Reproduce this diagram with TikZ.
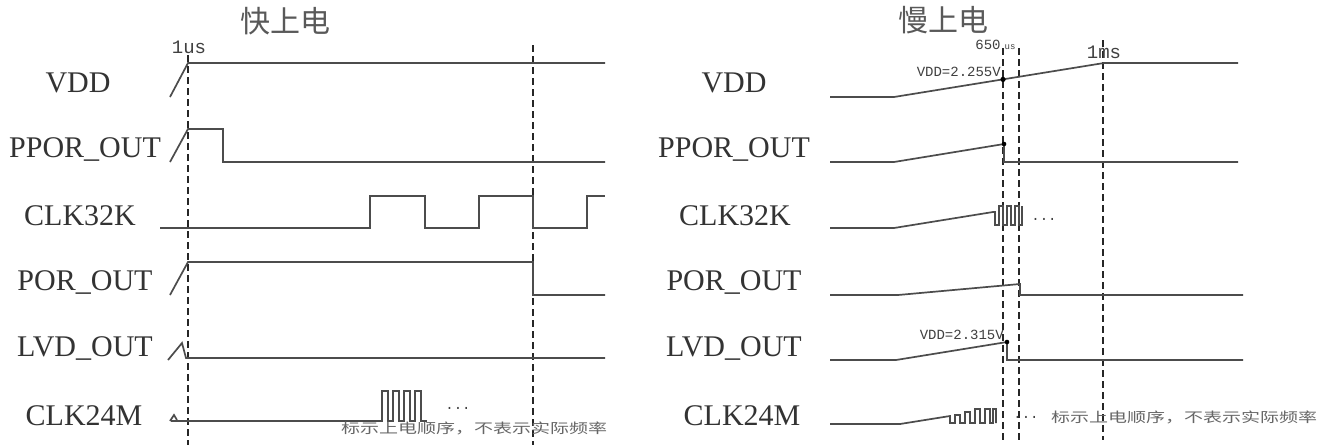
\documentclass[tikz,border=0pt]{standalone}
\usepackage{fontspec}
\setmainfont{Liberation Serif}
\newfontfamily\monof{Liberation Mono}
\newfontfamily\cjk{Noto Sans CJK SC}
\begin{document}
\begin{tikzpicture}[x=1pt,y=-1pt,
  wave/.style={draw=black!70,line width=1.7pt,line join=miter},
  guide/.style={draw=black!85,line width=1.8pt,dash pattern=on 7pt off 4pt},
  siglabel/.style={text=black!80,font=\fontsize{30}{32}\selectfont,inner sep=0pt},
  titletext/.style={text=black!65,font=\cjk\fontsize{30}{32}\selectfont,inner sep=0pt},
  smalltext/.style={text=black!75,font=\monof\fontsize{19}{20}\selectfont,inner sep=0pt},
  tinytext/.style={text=black!75,font=\monof\fontsize{14}{15}\selectfont,inner sep=0pt},
  notetext/.style={text=black!60,inner sep=0pt},
  dotmark/.style={fill=black}]
\useasboundingbox (0,0) rectangle (1333,445);
\fill[white] (0,0) rectangle (1333,445);

% ---------- titles ----------
\node[titletext] (t1) at (285,21) {快上电};
\node[titletext] (t2) at (943,20) {慢上电};

% ---------- left labels ----------
\node[siglabel] (lvdd) at (78,83) {VDD};
\node[siglabel] (lppor) at (85,149) {PPOR\_OUT};
\node[siglabel] (lclk32) at (80,216) {CLK32K};
\node[siglabel] (lpor) at (85,282) {POR\_OUT};
\node[siglabel] (llvd) at (85,348) {LVD\_OUT};
\node[siglabel] (lclk24) at (84,416) {CLK24M};

% ---------- right labels ----------
\node[siglabel] (rvdd) at (734,83) {VDD};
\node[siglabel] (rppor) at (734,149) {PPOR\_OUT};
\node[siglabel] (rclk32) at (735,216) {CLK32K};
\node[siglabel] (rpor) at (734,282) {POR\_OUT};
\node[siglabel] (rlvd) at (734,348) {LVD\_OUT};
\node[siglabel] (rclk24) at (742,416) {CLK24M};

% ---------- left guides ----------
\draw[guide] (188,55) -- (188,445);
\draw[guide] (533,45) -- (533,445);
\node[smalltext] (l1us) at (189,47) {1us};

% ---------- left waveforms ----------
\draw[wave] (170,97) -- (188,63) -- (605,63);
\draw[wave] (170,162) -- (188,129) -- (223,129) -- (223,162) -- (605,162);
\draw[wave] (160,228) -- (370,228) -- (370,196) -- (425,196) -- (425,228)
  -- (479,228) -- (479,196) -- (533,196) -- (533,228) -- (587,228)
  -- (587,196) -- (605,196);
\draw[wave] (170,295) -- (188,262) -- (533,262) -- (533,295) -- (605,295);
\draw[wave] (168,360) -- (182,343) -- (186,358) -- (605,358);
\draw[wave] (170,421) -- (174,415) -- (177,420);
\draw[wave] (171,421) -- (382,421) -- (382,391) -- (388,391) -- (388,421)
  -- (393,421) -- (393,391) -- (399,391) -- (399,421)
  -- (404,421) -- (404,391) -- (410,391) -- (410,421)
  -- (415,421) -- (415,391) -- (421,391) -- (421,421) -- (427,421);
\node[tinytext] (ldots) at (458,408) {...};
\node[notetext] (lnote) at (474,428) {\scalebox{1}[0.72]{\cjk\fontsize{19}{20}\selectfont 标示上电顺序，不表示实际频率}};

% ---------- right guides ----------
\draw[guide] (1003,48) -- (1003,440);
\draw[guide] (1019,48) -- (1019,440);
\draw[guide] (1103,40) -- (1103,440);
\node[tinytext] (r650) at (988,45) {650};
\node[text=black!75,font=\monof\fontsize{9}{10}\selectfont,inner sep=0pt] (rus) at (1010,47) {us};
\node[smalltext] (r1ms) at (1104,52) {1ms};

% ---------- right waveforms ----------
\draw[wave] (830,97) -- (894,97) -- (1104,63) -- (1238,63);
\fill[dotmark] (1003,79.4) circle (2.6);
\node[tinytext,anchor=east] (rv1) at (1001,72) {VDD=2.255V};

\draw[wave] (830,162) -- (894,162) -- (1004,144) -- (1004,162) -- (1238,162);
\fill[dotmark] (1004,144) circle (2.3);

\draw[wave] (830,228) -- (894,228) -- (993,212) -- (995,212) -- (995,225)
  -- (999,225) -- (999,206) -- (1003,206) -- (1003,225) -- (1007,225)
  -- (1007,206) -- (1011,206) -- (1011,225) -- (1015,225) -- (1015,206)
  -- (1019,206) -- (1019,225) -- (1022,225) -- (1022,206);
\node[tinytext] (rdots1) at (1044,219) {...};

\draw[wave] (830,295) -- (898,295) -- (1020,284) -- (1020,295) -- (1243,295);

\draw[wave] (830,360) -- (896,360) -- (1007,342) -- (1007,360) -- (1243,360);
\fill[dotmark] (1007,342) circle (2.3);
\node[tinytext,anchor=east] (rv2) at (1004,335) {VDD=2.315V};

\draw[wave] (830,424) -- (900,424) -- (950,416) -- (950,423) -- (955,423)
  -- (955,415) -- (960,415) -- (960,423) -- (965,423) -- (965,412)
  -- (970,412) -- (970,423) -- (975,423) -- (975,409) -- (980,409)
  -- (980,423) -- (985,423) -- (985,409) -- (990,409) -- (990,423)
  -- (993,423) -- (993,409) -- (996,409) -- (996,423);
\node[tinytext] (rdots2) at (1026,417) {...};
\node[notetext] (rnote) at (1184,417) {\scalebox{1}[0.72]{\cjk\fontsize{19}{20}\selectfont 标示上电顺序，不表示实际频率}};
\end{tikzpicture}
\end{document}
